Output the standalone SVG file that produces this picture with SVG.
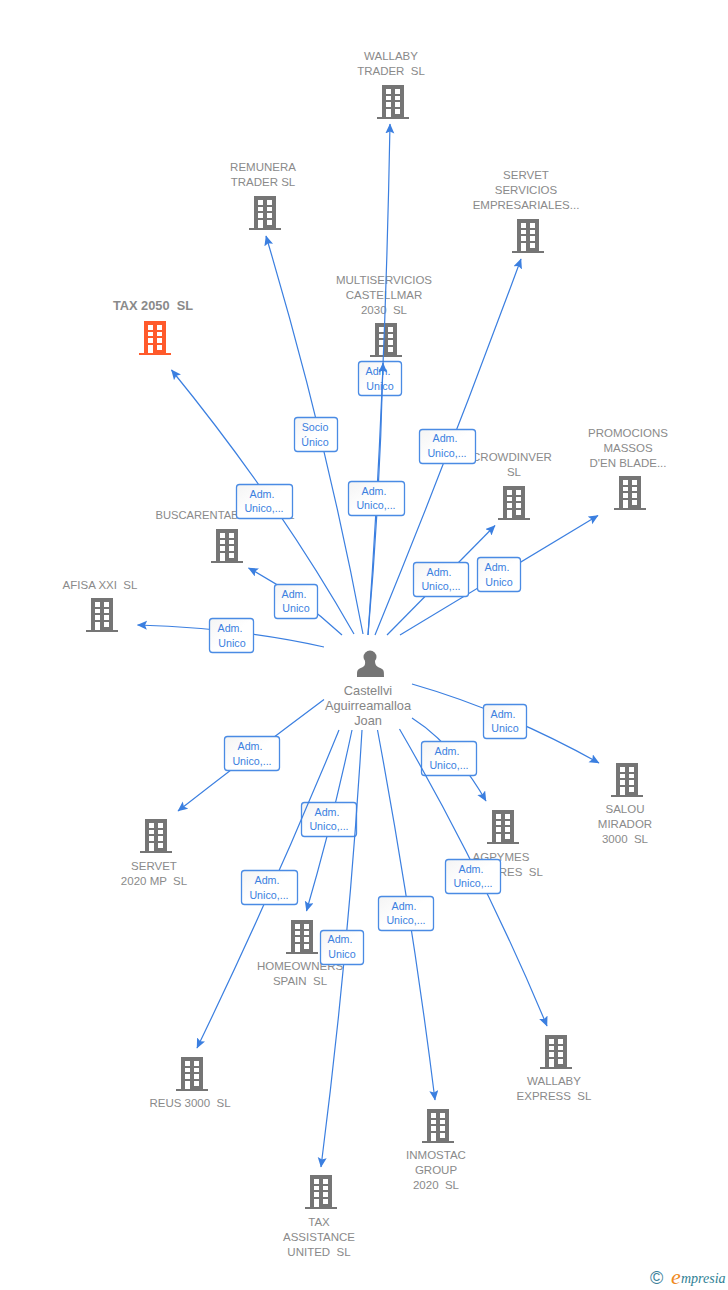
<svg xmlns="http://www.w3.org/2000/svg" width="728" height="1290" viewBox="0 0 728 1290">
<style>
text{font-family:"Liberation Sans",Arimo,Arial,sans-serif;white-space:pre}
.n{font-size:11.5px;fill:#8a8a8a;text-anchor:middle}
.b{font-weight:bold;font-size:12.8px}
.p{font-size:12.8px;fill:#858585;text-anchor:middle}
.c path{fill:none;stroke:#3b7fe0;stroke-width:1.2;marker-end:url(#a)}
.l rect{fill:url(#f);stroke:#4a8be4;stroke-width:1.3}
.l text{font-size:10.7px;fill:#3b7fe0;text-anchor:middle}
.g{fill:#757575}
.o{fill:#ff5a2b}
</style>
<defs>
<linearGradient id="f" x1="0" y1="0" x2="1" y2="1"><stop offset="0" stop-color="#f4f4f4"/><stop offset=".5" stop-color="#fff"/></linearGradient>
<marker id="a" markerUnits="userSpaceOnUse" markerWidth="11" markerHeight="10" refX="9.500" refY="4.500" orient="auto"><path d="M0 0L10 4.500L0 9L2 4.500Z" fill="#3b7fe0"/></marker>
<path id="k" fill-rule="evenodd" d="M-11-17H11V15H16V17H-16V15H-11ZM-7-13V-8H-2V-13ZM2-13V-8H7V-13ZM-7-6V-2H-2V-6ZM2-6V-2H7V-6ZM-7 0V5H-2V0ZM2 0V5H7V0ZM-7 7V15H-2V7ZM2 7V12H7V7Z"/>
</defs>
<g id="n1"><text class="n" x="391" y="60">WALLABY</text><text class="n" x="391" y="75">TRADER  SL</text><use href="#k" x="393" y="102" class="g"/></g>
<g id="n2"><text class="n" x="263" y="171">REMUNERA</text><text class="n" x="263" y="186">TRADER SL</text><use href="#k" x="265" y="213" class="g"/></g>
<g id="n3"><text class="n" x="526" y="179">SERVET</text><text class="n" x="526" y="194">SERVICIOS</text><text class="n" x="526" y="209">EMPRESARIALES...</text><use href="#k" x="528" y="236" class="g"/></g>
<g id="n4"><text class="n" x="384" y="284">MULTISERVICIOS</text><text class="n" x="384" y="299">CASTELLMAR</text><text class="n" x="384" y="314">2030  SL</text><use href="#k" x="386" y="340" class="g"/></g>
<g id="n5"><text class="n b" x="153" y="310">TAX 2050  SL</text><use href="#k" x="155" y="338" class="o"/></g>
<g id="n6"><text class="n" x="512" y="461">CROWDINVER</text><text class="n" x="514" y="476">SL</text><use href="#k" x="514" y="503" class="g"/></g>
<g id="n7"><text class="n" x="628" y="437">PROMOCIONS</text><text class="n" x="628" y="452">MASSOS</text><text class="n" x="628" y="467">D'EN BLADE...</text><use href="#k" x="630" y="493" class="g"/></g>
<g id="n8"><text class="n" x="225" y="519" style="font-size:11.2px">BUSCARENTABILIDAD  SL</text><use href="#k" x="227" y="546" class="g"/></g>
<g id="n9"><text class="n" x="100" y="589">AFISA XXI  SL</text><use href="#k" x="102" y="615" class="g"/></g>
<g id="n10"><text class="n" x="625" y="813">SALOU</text><text class="n" x="625" y="828">MIRADOR</text><text class="n" x="625" y="843">3000  SL</text><use href="#k" x="627" y="780" class="g"/></g>
<g id="n11"><text class="n" x="501" y="861">AGPYMES</text><text class="n" x="501" y="876">ASESORES  SL</text><use href="#k" x="503" y="827" class="g"/></g>
<g id="n12"><text class="n" x="154" y="870">SERVET</text><text class="n" x="154" y="885">2020 MP  SL</text><use href="#k" x="156" y="836" class="g"/></g>
<g id="n13"><text class="n" x="300" y="970">HOMEOWNERS</text><text class="n" x="300" y="985">SPAIN  SL</text><use href="#k" x="302" y="937" class="g"/></g>
<g id="n14"><text class="n" x="190" y="1107">REUS 3000  SL</text><use href="#k" x="192" y="1074" class="g"/></g>
<g id="n15"><text class="n" x="554" y="1085">WALLABY</text><text class="n" x="554" y="1100">EXPRESS  SL</text><use href="#k" x="556" y="1052" class="g"/></g>
<g id="n16"><text class="n" x="436" y="1159">INMOSTAC</text><text class="n" x="436" y="1174">GROUP</text><text class="n" x="436" y="1189">2020  SL</text><use href="#k" x="438" y="1126" class="g"/></g>
<g id="n17"><text class="n" x="319" y="1226">TAX</text><text class="n" x="319" y="1241">ASSISTANCE</text><text class="n" x="319" y="1256">UNITED  SL</text><use href="#k" x="321" y="1192" class="g"/></g>
<g id="person"><circle cx="370" cy="657" r="6.500" fill="#757575"/><path fill="#757575" d="M365 661C366 667 362 667 359 669C357 670 357 672 357 677H384C384 672 384 670 382 669C379 667 375 667 375 661Z"/><text class="p" x="368" y="695">Castellvi</text><text class="p" x="368" y="710">Aguirreamalloa</text><text class="p" x="368" y="725">Joan</text></g>
<g class="c" id="connectors-under">
<path d="M352 730Q333 820 306.500 911"/>
<path d="M412 718Q453 744 486 801"/>
</g>
<g class="l" id="edge-labels-under">
<g><rect x="358.500" y="361.500" width="43" height="34" rx="3"/><text x="378" y="375">Adm.</text><text x="380" y="390">Unico</text></g>
<g><rect x="301.500" y="802.500" width="55" height="34" rx="3"/><text x="327" y="815.500">Adm.</text><text x="329" y="830">Unico,...</text></g>
<g><rect x="421.500" y="741.500" width="55" height="34" rx="3"/><text x="447" y="754.500">Adm.</text><text x="449" y="769">Unico,...</text></g>
</g>
<g class="c" id="connectors">
<path d="M368 635Q385 400 390 124"/>
<path d="M363 634Q325.500 435 266 236"/>
<path d="M375 635Q452 447 521 259"/>
<path d="M368 635Q380 499 383 363"/>
<path d="M354 634Q279 502 171.500 370"/>
<path d="M387 635Q441 580 495 525.500"/>
<path d="M400 635Q499 575 598 515.500"/>
<path d="M342 635Q299 595 248.500 568"/>
<path d="M324 647Q240 628 137.500 625"/>
<path d="M412 684Q504.500 710.500 599 763"/>
<path d="M399.500 729Q484 875 547 1026"/>
<path d="M377.500 730Q412 915 435 1100"/>
<path d="M362 730Q349 948 321 1167"/>
<path d="M339 730Q274 889 197 1048"/>
<path d="M324 699.500Q251 754 178 811"/>
</g>
<g class="l" id="edge-labels">
<g><rect x="294.500" y="417.500" width="43" height="34" rx="3"/><text x="315" y="431">Socio</text><text x="315" y="446">Único</text></g>
<g><rect x="348.500" y="481.500" width="56" height="34" rx="3"/><text x="374" y="494.500">Adm.</text><text x="376" y="509">Unico,...</text></g>
<g><rect x="419.500" y="429.500" width="56" height="34" rx="3"/><text x="445" y="442">Adm.</text><text x="447" y="457">Unico,...</text></g>
<g><rect x="236.500" y="484.500" width="56" height="34" rx="3"/><text x="262" y="497.500">Adm.</text><text x="264" y="512">Unico,...</text></g>
<g><rect x="413.500" y="562.500" width="55" height="34" rx="3"/><text x="439" y="575.500">Adm.</text><text x="441" y="590">Unico,...</text></g>
<g><rect x="477.500" y="557.500" width="43" height="34" rx="3"/><text x="497" y="571">Adm.</text><text x="499" y="586">Unico</text></g>
<g><rect x="274.500" y="584.500" width="43" height="34" rx="3"/><text x="294" y="597.500">Adm.</text><text x="296" y="612">Unico</text></g>
<g><rect x="209.500" y="618.500" width="44" height="34" rx="3"/><text x="230" y="632">Adm.</text><text x="232" y="647">Unico</text></g>
<g><rect x="483.500" y="704.500" width="43" height="34" rx="3"/><text x="503" y="717.500">Adm.</text><text x="505" y="732">Unico</text></g>
<g><rect x="224.500" y="736.500" width="55" height="34" rx="3"/><text x="250" y="750">Adm.</text><text x="252" y="765">Unico,...</text></g>
<g><rect x="445.500" y="859.500" width="55" height="34" rx="3"/><text x="471" y="872.500">Adm.</text><text x="473" y="887">Unico,...</text></g>
<g><rect x="241.500" y="870.500" width="56" height="34" rx="3"/><text x="267" y="884">Adm.</text><text x="269" y="899">Unico,...</text></g>
<g><rect x="378.500" y="896.500" width="55" height="34" rx="3"/><text x="404" y="909.500">Adm.</text><text x="406" y="924">Unico,...</text></g>
<g><rect x="320.500" y="930.500" width="43" height="34" rx="3"/><text x="340" y="943">Adm.</text><text x="342" y="958">Unico</text></g>
</g>
<g id="logo"><text x="650" y="1284" font-size="18" fill="#3d7f9a">©</text><text x="671" y="1284" font-size="22" fill="#f08a1d" font-style="italic" style="font-family:'Liberation Serif',serif">e</text><text x="681" y="1283" font-size="14" fill="#2f7f95" font-style="italic" style="font-family:'Liberation Serif',serif">mpresia</text></g>
</svg>
